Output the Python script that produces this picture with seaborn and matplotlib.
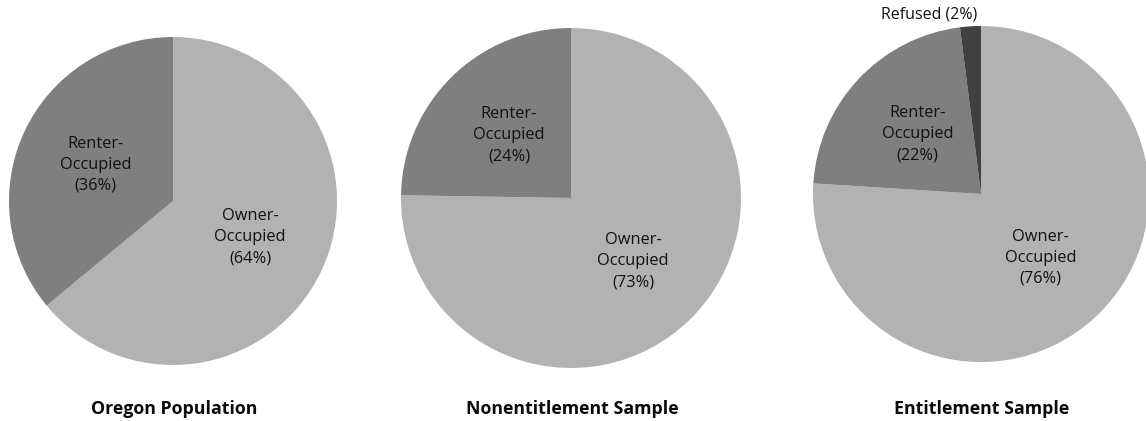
import numpy as np
import matplotlib
matplotlib.use("Agg")
import matplotlib.pyplot as plt
import seaborn as sns

# ---- data ----
titles = ["Oregon Population", "Nonentitlement Sample", "Entitlement Sample"]
categories = [
    ["Owner-Occupied", "Renter-Occupied"],
    ["Owner-Occupied", "Renter-Occupied"],
    ["Owner-Occupied", "Renter-Occupied", "Refused"],
]
values = [
    [64, 36],
    [73, 24],
    [76, 22, 2],
]
slice_colors = {"Owner-Occupied": "#b2b2b2", "Renter-Occupied": "#7f7f7f", "Refused": "#404040"}

sns.set_theme(style="white")
plt.rcParams["font.family"] = ["Open Sans", "DejaVu Sans"]

W, H = 1146, 421
fig = plt.figure(figsize=(W / 100, H / 100), dpi=100)
fig.patch.set_facecolor("white")

# layout (pixel centers and radii)
centers = [(173, 201), (571, 198), (981, 194)]
radii = [164, 170, 168]
title_pos = [(174, 409), (572, 409), (982, 409)]

for i in range(3):
    cx, cy = centers[i]
    r = radii[i]
    ax = fig.add_axes([(cx - r) / W, 1 - (cy + r) / H, 2 * r / W, 2 * r / H])
    cols = [slice_colors[c] for c in categories[i]]
    wedges, _ = ax.pie(values[i], colors=cols, startangle=90, counterclock=False,
                       wedgeprops=dict(linewidth=0), radius=1.0)
    ax.set_xlim(-1, 1)
    ax.set_ylim(-1, 1)
    ax.set_aspect("equal")
    ax.axis("off")
    for w, cat, v in zip(wedges, categories[i], values[i]):
        mid = np.deg2rad((w.theta1 + w.theta2) / 2)
        if cat == "Refused":
            ax.text(-0.02, 1.07, f"{cat} ({v}%)", ha="right", va="center",
                    fontsize=11.5, color="#111111", clip_on=False)
        else:
            name = cat.replace("-", "-\n")
            ax.text(0.52 * np.cos(mid), 0.52 * np.sin(mid), f"{name}\n({v}%)",
                    ha="center", va="center", fontsize=11.8, color="#111111",
                    linespacing=1.42)
    tx, ty = title_pos[i]
    fig.text(tx / W, 1 - ty / H, titles[i], ha="center", va="center",
             fontsize=12.8, fontweight="bold", color="#0a0a0a")

fig.savefig("out.png", dpi=100, facecolor="white")
